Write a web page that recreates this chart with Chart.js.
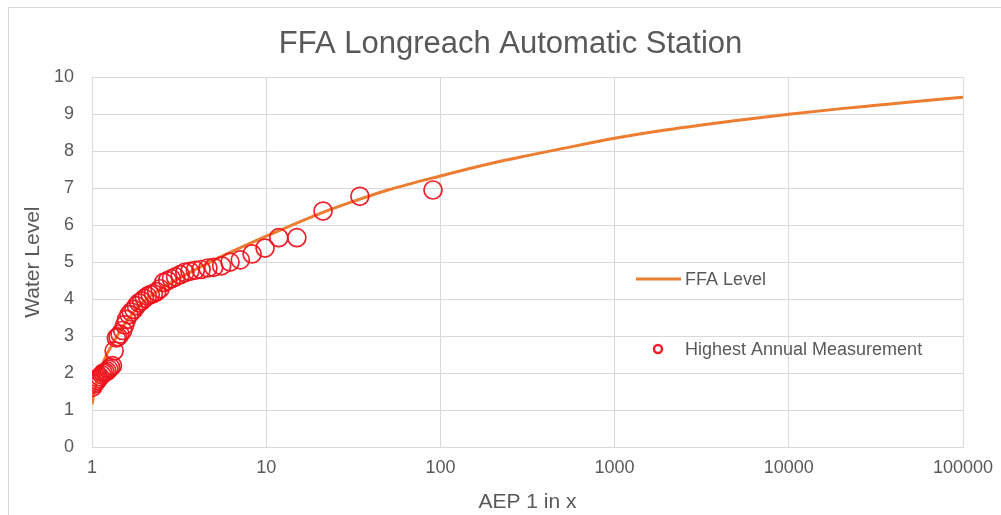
<!DOCTYPE html>
<html lang="en">
<head>
<meta charset="UTF-8">
<title>FFA Longreach Automatic Station</title>
<style>
  body { margin: 0; overflow: hidden; background: #fff; }
  #wrap { position: relative; width: 1001px; height: 515px; overflow: hidden; }
  #frame { position: absolute; left: 8px; top: 7px; width: 1010px; height: 520px; border: 1px solid #d9d9d9; box-sizing: border-box; }
  canvas { position: absolute; left: 0; top: 0; }
</style>
</head>
<body>
<div id="wrap">
  <div id="frame"></div>
  <canvas id="ffaChart" width="1001" height="515"></canvas>
</div>

<script src="https://cdn.jsdelivr.net/npm/chart.js"></script>
<script>
// FFA fitted curve (AEP 1 in x vs level)
const ffaAep = [1, 1.05, 1.1, 1.2, 1.3, 1.5, 2, 3, 5, 10, 20, 31.6, 50, 100, 200, 316, 500, 1000,
  2000, 3162, 5000, 10000, 20000, 31623, 50000, 100000];
const ffaLevel = [1.15, 1.65, 2.0, 2.45, 2.75, 3.25, 3.95, 4.5, 5.05, 5.70, 6.30, 6.64, 6.95, 7.33, 7.68, 7.88, 8.07, 8.35,
  8.58, 8.71, 8.83, 9.0, 9.15, 9.24, 9.33, 9.46];

// highest annual measurements (plotting position vs level)
const measAep = [90.7, 34.5, 21.2, 15.0, 11.8, 9.85, 8.3, 7.1, 6.2, 5.55, 5.0,
  4.63, 4.23, 3.92, 3.65, 3.41, 3.21, 3.02, 2.86, 2.72, 2.58, 2.46, 2.35, 2.25, 2.16,
  2.08, 2.0, 1.93, 1.86, 1.80, 1.74, 1.68, 1.63, 1.58, 1.54, 1.50, 1.45, 1.41, 1.38,
  1.34, 1.31, 1.28, 1.25, 1.22, 1.19, 1.16, 1.14, 1.11, 1.09, 1.07, 1.05, 1.03, 1.01];
const measLevel = [6.95, 6.78, 6.38, 5.66, 5.66, 5.38, 5.22, 5.06, 5.0, 4.9, 4.86,
  4.84, 4.80, 4.78, 4.75, 4.72, 4.66, 4.60, 4.55, 4.50, 4.45, 4.28, 4.20, 4.15, 4.12,
  4.08, 4.02, 3.95, 3.90, 3.82, 3.72, 3.65, 3.58, 3.45, 3.30, 3.15, 3.05, 2.98, 2.95,
  2.6, 2.2, 2.15, 2.10, 2.05, 2.02, 2.0, 1.95, 1.90, 1.85, 1.80, 1.75, 1.70, 1.62];

const xTicks = [1, 10, 100, 1000, 10000, 100000];
const yMin = 0, yMax = 10, yStep = 1;

const FONT = '"Liberation Sans", Arial, sans-serif';
const TEXT = '#595959';
const GRID = '#d9d9d9';

// legend drawn inside the plot, right of centre
const insideLegend = {
  id: 'insideLegend',
  afterDatasetsDraw(chart) {
    const ctx = chart.ctx;
    const meas = chart.data.datasets[0];
    const line = chart.data.datasets[1];
    ctx.save();
    ctx.font = '18px ' + FONT;
    ctx.fillStyle = TEXT;
    ctx.textBaseline = 'middle';
    ctx.strokeStyle = line.borderColor;
    ctx.lineWidth = 3;
    ctx.beginPath();
    ctx.moveTo(636, 279);
    ctx.lineTo(681, 279);
    ctx.stroke();
    ctx.fillText(line.label, 685, 280);
    ctx.strokeStyle = meas.borderColor;
    ctx.lineWidth = 2.5;
    ctx.beginPath();
    ctx.arc(658, 349, 4, 0, Math.PI * 2);
    ctx.stroke();
    ctx.fillText(meas.label, 685, 350);
    ctx.restore();
  }
};

new Chart(document.getElementById('ffaChart'), {
  type: 'scatter',
  data: {
    datasets: [{
      label: 'Highest Annual Measurement',
      data: measAep.map((x, i) => ({ x: x, y: measLevel[i] })),
      showLine: false,
      borderColor: 'rgba(238, 20, 30, 0.95)',
      backgroundColor: 'rgba(0,0,0,0)',
      borderWidth: 1.7,
      pointRadius: 9,
      pointHoverRadius: 9
    }, {
      label: 'FFA Level',
      data: ffaAep.map((x, i) => ({ x: x, y: ffaLevel[i] })),
      showLine: true,
      borderColor: '#ED7D31',
      borderWidth: 3,
      pointRadius: 0,
      cubicInterpolationMode: 'monotone'
    }]
  },
  options: {
    responsive: false,
    animation: false,
    devicePixelRatio: 1,
    layout: { padding: { left: 20, right: 0, top: 0, bottom: 0 } },
    plugins: {
      legend: { display: false },
      tooltip: { enabled: false },
      title: {
        display: true,
        text: 'FFA Longreach Automatic Station',
        color: TEXT,
        font: { family: FONT, size: 31, weight: 'normal' },
        padding: { top: 26, bottom: 14 }
      }
    },
    scales: {
      x: {
        type: 'logarithmic',
        min: 1,
        max: 100000,
        afterBuildTicks: s => { s.ticks = xTicks.map(v => ({ value: v })); },
        afterFit: s => { s.height = 68; s.paddingRight = 38; s.paddingLeft = 0; },
        ticks: {
          color: TEXT,
          font: { family: FONT, size: 18 },
          padding: 10,
          maxRotation: 0,
          autoSkip: false,
          callback: v => String(v)
        },
        grid: { color: GRID, lineWidth: 1, drawTicks: false },
        border: { color: GRID },
        title: {
          display: true,
          text: 'AEP 1 in x',
          color: TEXT,
          font: { family: FONT, size: 21 },
          padding: { top: 0, bottom: 0 }
        }
      },
      y: {
        min: yMin,
        max: yMax,
        afterFit: s => { s.width = 72; },
        ticks: {
          stepSize: yStep,
          color: TEXT,
          font: { family: FONT, size: 18 },
          padding: 18
        },
        grid: { color: GRID, lineWidth: 1, drawTicks: false },
        border: { color: GRID },
        title: {
          display: true,
          text: 'Water Level',
          color: TEXT,
          font: { family: FONT, size: 21 },
          padding: { top: 1, bottom: 0 }
        }
      }
    }
  },
  plugins: [insideLegend]
});
</script>
</body>
</html>
